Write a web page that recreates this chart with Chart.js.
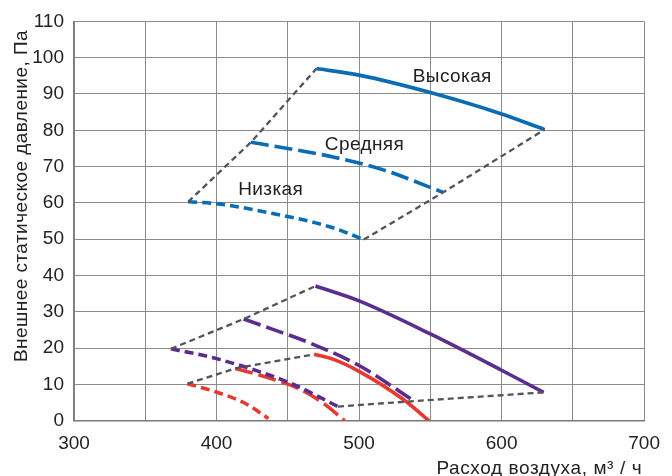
<!DOCTYPE html>
<html>
<head>
<meta charset="utf-8">
<script src="https://cdn.jsdelivr.net/npm/chart.js@4/dist/chart.umd.min.js"></script>
<style>
  html, body { margin: 0; padding: 0; background: #ffffff; }
  #wrap { width: 672px; height: 476px; }
</style>
</head>
<body>
<div id="wrap"><canvas id="c" width="672" height="476"></canvas></div>
<script>
// ---- Data ----
const xTickLabels = [300, 400, 500, 600, 700];
const yTickLabels = [0, 10, 20, 30, 40, 50, 60, 70, 80, 90, 100, 110];

// Blue (upper group)
const blueHighX = [470.1, 500, 550, 600, 630.2];
const blueHighY = [97.0, 95.2, 90.4, 84.5, 80.2];
const blueMedX  = [424.1, 450, 482.4, 517, 559];
const blueMedY  = [76.7, 75.0, 72.6, 69.1, 62.9];
const blueLowX  = [380.1, 400, 434.1, 480.5, 503.3];
const blueLowY  = [60.3, 59.8, 57.5, 53.3, 49.9];

// Purple (middle group)
const purpleHighX = [469.4, 500, 550, 600, 629.5];
const purpleHighY = [37.1, 33.0, 23.9, 13.9, 7.8];
const purpleMedX  = [419, 440, 464.3, 500, 538.6];
const purpleMedY  = [28.0, 25.1, 21.6, 15.2, 5.4];
const purpleLowX  = [368, 400, 452.7, 485.2];
const purpleLowY  = [19.8, 17.1, 10.2, 3.9];

// Red (lower group)
const redHighX = [468.5, 482, 500, 531.6, 549];
const redHighY = [18.3, 16.9, 13.6, 5.7, 0];
const redMedX  = [413.2, 435, 457.3, 475, 489.8];
const redMedY  = [14.4, 12.0, 8.9, 4.8, 0];
const redLowX  = [379.6, 399.8, 420, 436.4];
const redLowY  = [10.2, 7.9, 4.8, 0.6];

// Grey envelope lines (connect curve ends)
const envBlueLeftX   = [380.1, 424.1, 470.1];
const envBlueLeftY   = [60.3, 76.7, 97.0];
const envBlueRightX  = [503.3, 559, 630.2];
const envBlueRightY  = [49.9, 62.9, 80.2];
const envPurpLeftX   = [368, 419, 469.4];
const envPurpLeftY   = [19.8, 28.0, 37.1];
const envPurpRightX  = [485.2, 538.6, 629.5];
const envPurpRightY  = [3.9, 5.4, 7.8];
const envRedLeftX    = [379.6, 413.2, 468.5];
const envRedLeftY    = [10.2, 14.4, 18.3];

// Curve labels
const curveLabels = ['Высокая', 'Средняя', 'Низкая'];
const curveLabelX = [565.4, 503.8, 438.0];
const curveLabelY = [93.3, 74.5, 62.2];

const yTitle = 'Внешнее статическое давление, Па';
const xTitle = 'Расход воздуха, м³ / ч';

// ---- Helpers ----
const pts = (xs, ys) => xs.map((x, i) => ({ x: x, y: ys[i] }));

const BLUE = '#0a6cb5';
const PURPLE = '#5b2d8e';
const RED = '#e8392f';
const GREY = '#55525a';
const SOLID = [];
const LONG = [18, 6];
const SHORT = [9, 5];

function curve(xs, ys, color, dash) {
  return {
    data: pts(xs, ys), borderColor: color, borderWidth: 3.6, borderDash: dash,
    showLine: true, pointRadius: 0, tension: 0.4, cubicInterpolationMode: 'monotone',
    fill: false, borderCapStyle: 'butt'
  };
}
function env(xs, ys) {
  return {
    data: pts(xs, ys), borderColor: GREY, borderWidth: 2.3, borderDash: [6, 4],
    showLine: true, pointRadius: 0, tension: 0, fill: false
  };
}

const datasets = [
  env(envBlueLeftX, envBlueLeftY), env(envBlueRightX, envBlueRightY),
  env(envPurpLeftX, envPurpLeftY), env(envPurpRightX, envPurpRightY),
  env(envRedLeftX, envRedLeftY),
  curve(blueHighX, blueHighY, BLUE, SOLID),
  curve(blueMedX, blueMedY, BLUE, LONG),
  curve(blueLowX, blueLowY, BLUE, SHORT),
  curve(purpleHighX, purpleHighY, PURPLE, SOLID),
  curve(purpleMedX, purpleMedY, PURPLE, LONG),
  curve(purpleLowX, purpleLowY, PURPLE, SHORT),
  curve(redHighX, redHighY, RED, SOLID),
  curve(redMedX, redMedY, RED, LONG),
  curve(redLowX, redLowY, RED, SHORT)
];

const FONT = '"Liberation Sans", Arial, Helvetica, sans-serif';

const textPlugin = {
  id: 'texts',
  afterDraw(chart) {
    const ctx = chart.ctx;
    const xs = chart.scales.x, ys = chart.scales.y;
    ctx.save();
    ctx.fillStyle = '#222222';
    ctx.font = '19px ' + FONT;
    if ('letterSpacing' in ctx) ctx.letterSpacing = '0.4px';
    ctx.textAlign = 'center';
    ctx.textBaseline = 'alphabetic';
    curveLabels.forEach((t, i) => {
      ctx.fillText(t, xs.getPixelForValue(curveLabelX[i]), ys.getPixelForValue(curveLabelY[i]));
    });
    // x title (right aligned under the axis)
    if ('letterSpacing' in ctx) ctx.letterSpacing = '0.6px';
    ctx.textAlign = 'right';
    ctx.fillText(xTitle, chart.chartArea.right - 2, 474);
    // y title (rotated)
    if ('letterSpacing' in ctx) ctx.letterSpacing = '0.45px';
    ctx.translate(27, 196);
    ctx.rotate(-Math.PI / 2);
    ctx.textAlign = 'center';
    ctx.fillText(yTitle, 0, 0);
    ctx.restore();
  }
};

new Chart(document.getElementById('c'), {
  type: 'scatter',
  data: { datasets: datasets },
  options: {
    responsive: false,
    animation: false,
    devicePixelRatio: 1,
    layout: { padding: { left: 0, right: 23.4, top: 18.3, bottom: 0 } },
    plugins: { legend: { display: false }, tooltip: { enabled: false } },
    scales: {
      x: {
        type: 'linear', min: 300, max: 700,
        afterFit: s => { s.height = 55.3; },
        grid: { color: '#8c8c8c', lineWidth: 1, drawTicks: false },
        border: { color: '#7a7a7a', width: 1.5 },
        ticks: {
          stepSize: 50, autoSkip: false, maxRotation: 0, padding: 12,
          color: '#222222', font: { family: FONT, size: 19 },
          callback: v => (xTickLabels.includes(v) ? String(v) : '')
        }
      },
      y: {
        type: 'linear', min: 0, max: 110,
        afterFit: s => { s.width = 74; },
        grid: { color: '#8c8c8c', lineWidth: 1, drawTicks: false },
        border: { color: '#7a7a7a', width: 1.5 },
        ticks: {
          stepSize: 10, autoSkip: false, padding: 10,
          color: '#222222', font: { family: FONT, size: 19 },
          callback: v => (yTickLabels.includes(v) ? String(v) : '')
        }
      }
    }
  },
  plugins: [textPlugin]
});
</script>
</body>
</html>
